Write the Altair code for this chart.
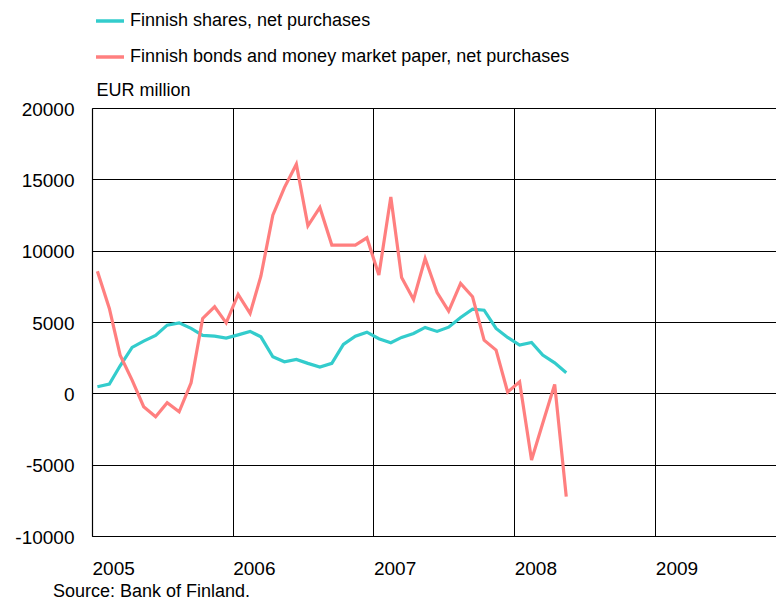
import altair as alt
import pandas as pd

# Monthly observations, Jan 2005 - May 2008 (EUR million), plotted mid-month
months = pd.date_range("2005-01-01", periods=41, freq="MS") + pd.Timedelta(days=14)
shares = [460, 650, 1930, 3220, 3660, 4060, 4780, 4940, 4550, 4060, 4010, 3870,
          4100, 4340, 3960, 2560, 2210, 2380, 2100, 1840, 2100, 3430, 4010, 4290,
          3830, 3550, 3920, 4200, 4620, 4340, 4640, 5320, 5900, 5830, 4550, 3920,
          3380, 3570, 2680, 2140, 1440]
bonds = [8560, 5950, 2680, 930, -940, -1640, -660, -1290, 740, 5250, 6070, 4940,
         6930, 5600, 8210, 12490, 14420, 16060, 11740, 13030, 10390, 10390, 10390, 10900,
         8290, 13770, 8120, 6580, 9450, 7070, 5760, 7700, 6770, 3730, 3030, 90,
         810, -4670, -2100, 630, -7240]
series_names = ["Finnish shares, net purchases",
                "Finnish bonds and money market paper, net purchases"]
series_colors = ["#33CCCC", "#FF7F7F"]
y_ticks = [-10000, -5000, 0, 5000, 10000, 15000, 20000]
x_domain = ["2005-01-01", "2009-11-10"]

dates = [d.strftime("%Y-%m-%d") for d in months]
df = pd.concat([
    pd.DataFrame({"date": dates, "value": shares, "series": series_names[0]}),
    pd.DataFrame({"date": dates, "value": bonds, "series": series_names[1]}),
])

ms = [int(pd.Timestamp(d, tz="UTC").value // 10**6) for d in x_domain]

FONT = "Liberation Sans"

chart = alt.Chart(df).mark_line(strokeWidth=3.2).encode(
    x=alt.X("date:T",
            scale=alt.Scale(type="utc", domain=ms, nice=False),
            axis=alt.Axis(title=None, format="%Y", tickCount="year", grid=True,
                          ticks=False, tickSize=0, labelAlign="left",
                          labelBaseline="middle", labelPadding=32,
                          labelFontSize=19)),
    y=alt.Y("value:Q",
            scale=alt.Scale(domain=[-10000, 20000], nice=False, zero=False),
            axis=alt.Axis(values=y_ticks, title="EUR million", titleAngle=0,
                          titleAlign="left", titleBaseline="alphabetic",
                          titleX=4, titleY=-13, titleFontSize=18,
                          titleFontWeight="normal", grid=True, ticks=False,
                          tickSize=0, labelPadding=18, labelFontSize=19,
                          labelOffset=1,
                          labelExpr="toString(datum.value)")),
    color=alt.Color("series:N",
                    scale=alt.Scale(domain=series_names, range=series_colors),
                    legend=alt.Legend(title=None, orient="none", legendX=2,
                                      legendY=-103, direction="vertical",
                                      symbolType="stroke", symbolSize=784,
                                      symbolStrokeWidth=3.5, labelFontSize=18,
                                      labelOffset=4, rowPadding=11,
                                      labelLimit=600)),
).properties(
    width=684, height=428,
    autosize=alt.AutoSizeParams(type="none"),
    padding={"left": 84, "top": 100, "right": 0, "bottom": 70},
    title=alt.TitleParams("Source: Bank of Finland.", orient="bottom",
                          anchor="start", frame="group", dx=-39, offset=5,
                          fontSize=18, fontWeight="normal", font=FONT,
                          color="black", baseline="top"),
).configure_axis(
    labelFont=FONT, titleFont=FONT, labelColor="black", titleColor="black",
    domainColor="black", domainWidth=1.2, gridColor="black", gridWidth=1,
    gridOpacity=1,
).configure_legend(
    labelFont=FONT, labelColor="black",
).configure_view(strokeWidth=0)

chart.save("out.html", embed_options={"renderer": "svg", "actions": False})
